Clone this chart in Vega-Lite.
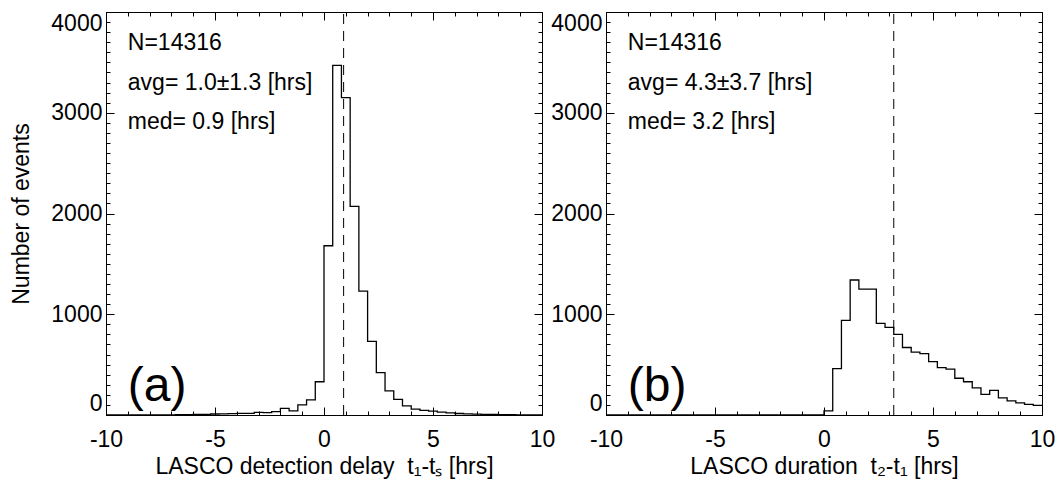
{
  "$schema": "https://vega.github.io/schema/vega-lite/v6.json",
  "padding": {"left": 10, "top": 11, "right": 5, "bottom": 0},
  "bounds": "flush",
  "spacing": 64,
  "config": {
    "font": "Liberation Sans",
    "view": {"stroke": "black", "strokeWidth": 1},
    "axis": {"domainColor": "black", "tickColor": "black", "labelColor": "black", "titleColor": "black", "labelFontSize": 23, "titleFontSize": 23, "titleFontWeight": "normal", "labelFont": "Liberation Sans", "titleFont": "Liberation Sans", "labelOverlap": false, "tickWidth": 1, "domainWidth": 1, "tickSize": -6, "tickOpacity": 0}
  },
  "datasets": {
    "hist": [
      {"panel": "a", "t": -10.0, "count": 0}, {"panel": "a", "t": -9.6, "count": 0}, {"panel": "a", "t": -9.2, "count": 0}, {"panel": "a", "t": -8.8, "count": 0}, {"panel": "a", "t": -8.4, "count": 0},
      {"panel": "a", "t": -8.0, "count": 1}, {"panel": "a", "t": -7.6, "count": 2}, {"panel": "a", "t": -7.2, "count": 2}, {"panel": "a", "t": -6.8, "count": 3}, {"panel": "a", "t": -6.4, "count": 4},
      {"panel": "a", "t": -6.0, "count": 5}, {"panel": "a", "t": -5.6, "count": 6}, {"panel": "a", "t": -5.2, "count": 10}, {"panel": "a", "t": -4.8, "count": 12}, {"panel": "a", "t": -4.4, "count": 13},
      {"panel": "a", "t": -4.0, "count": 16}, {"panel": "a", "t": -3.6, "count": 16}, {"panel": "a", "t": -3.2, "count": 26}, {"panel": "a", "t": -2.8, "count": 23}, {"panel": "a", "t": -2.4, "count": 33},
      {"panel": "a", "t": -2.0, "count": 66}, {"panel": "a", "t": -1.6, "count": 40}, {"panel": "a", "t": -1.2, "count": 100}, {"panel": "a", "t": -0.8, "count": 150}, {"panel": "a", "t": -0.4, "count": 330},
      {"panel": "a", "t": 0.0, "count": 1680}, {"panel": "a", "t": 0.4, "count": 3470}, {"panel": "a", "t": 0.8, "count": 3150}, {"panel": "a", "t": 1.2, "count": 2070}, {"panel": "a", "t": 1.6, "count": 1230},
      {"panel": "a", "t": 2.0, "count": 730}, {"panel": "a", "t": 2.4, "count": 420}, {"panel": "a", "t": 2.8, "count": 240}, {"panel": "a", "t": 3.2, "count": 155}, {"panel": "a", "t": 3.6, "count": 90},
      {"panel": "a", "t": 4.0, "count": 58}, {"panel": "a", "t": 4.4, "count": 45}, {"panel": "a", "t": 4.8, "count": 38}, {"panel": "a", "t": 5.2, "count": 28}, {"panel": "a", "t": 5.6, "count": 22},
      {"panel": "a", "t": 6.0, "count": 15}, {"panel": "a", "t": 6.4, "count": 12}, {"panel": "a", "t": 6.8, "count": 9}, {"panel": "a", "t": 7.2, "count": 7}, {"panel": "a", "t": 7.6, "count": 5},
      {"panel": "a", "t": 8.0, "count": 4}, {"panel": "a", "t": 8.4, "count": 3}, {"panel": "a", "t": 8.8, "count": 2}, {"panel": "a", "t": 9.2, "count": 2}, {"panel": "a", "t": 9.6, "count": 1},
      {"panel": "a", "t": 10.0, "count": 1},
      {"panel": "b", "t": -10.0, "count": 0}, {"panel": "b", "t": -9.6, "count": 0}, {"panel": "b", "t": -9.2, "count": 0}, {"panel": "b", "t": -8.8, "count": 0}, {"panel": "b", "t": -8.4, "count": 0},
      {"panel": "b", "t": -8.0, "count": 0}, {"panel": "b", "t": -7.6, "count": 0}, {"panel": "b", "t": -7.2, "count": 0}, {"panel": "b", "t": -6.8, "count": 0}, {"panel": "b", "t": -6.4, "count": 0},
      {"panel": "b", "t": -6.0, "count": 0}, {"panel": "b", "t": -5.6, "count": 0}, {"panel": "b", "t": -5.2, "count": 0}, {"panel": "b", "t": -4.8, "count": 0}, {"panel": "b", "t": -4.4, "count": 0},
      {"panel": "b", "t": -4.0, "count": 0}, {"panel": "b", "t": -3.6, "count": 0}, {"panel": "b", "t": -3.2, "count": 0}, {"panel": "b", "t": -2.8, "count": 0}, {"panel": "b", "t": -2.4, "count": 0},
      {"panel": "b", "t": -2.0, "count": 0}, {"panel": "b", "t": -1.6, "count": 0}, {"panel": "b", "t": -1.2, "count": 0}, {"panel": "b", "t": -0.8, "count": 0}, {"panel": "b", "t": -0.4, "count": 0},
      {"panel": "b", "t": 0.0, "count": 40}, {"panel": "b", "t": 0.4, "count": 460}, {"panel": "b", "t": 0.8, "count": 940}, {"panel": "b", "t": 1.2, "count": 1340}, {"panel": "b", "t": 1.6, "count": 1250},
      {"panel": "b", "t": 2.0, "count": 1250}, {"panel": "b", "t": 2.4, "count": 910}, {"panel": "b", "t": 2.8, "count": 870}, {"panel": "b", "t": 3.2, "count": 800}, {"panel": "b", "t": 3.6, "count": 670},
      {"panel": "b", "t": 4.0, "count": 625}, {"panel": "b", "t": 4.4, "count": 610}, {"panel": "b", "t": 4.8, "count": 530}, {"panel": "b", "t": 5.2, "count": 470}, {"panel": "b", "t": 5.6, "count": 455},
      {"panel": "b", "t": 6.0, "count": 365}, {"panel": "b", "t": 6.4, "count": 330}, {"panel": "b", "t": 6.8, "count": 270}, {"panel": "b", "t": 7.2, "count": 205}, {"panel": "b", "t": 7.6, "count": 245},
      {"panel": "b", "t": 8.0, "count": 170}, {"panel": "b", "t": 8.4, "count": 140}, {"panel": "b", "t": 8.8, "count": 120}, {"panel": "b", "t": 9.2, "count": 105}, {"panel": "b", "t": 9.6, "count": 95},
      {"panel": "b", "t": 10.0, "count": 95}
    ],
    "stats": [
      {"panel": "a", "med": 0.9, "ntext": "N=14316", "avgtext": "avg= 1.0±1.3 [hrs]", "medtext": "med= 0.9 [hrs]", "tag": "(a)"},
      {"panel": "b", "med": 3.2, "ntext": "N=14316", "avgtext": "avg= 4.3±3.7 [hrs]", "medtext": "med= 3.2 [hrs]", "tag": "(b)"}
    ]
  },
  "hconcat": [
    {
      "width": 436, "height": 403,
      "resolve": {"axis": {"x": "independent", "y": "independent"}},
      "layer": [
        {
          "data": {"name": "hist"},
          "transform": [{"filter": "datum.panel === 'a'"}],
          "mark": {"type": "line", "interpolate": "step-after", "color": "black", "strokeWidth": 1.3},
          "encoding": {
            "x": {"field": "t", "type": "quantitative", "scale": {"domain": [-10, 10], "nice": false, "zero": false},
              "axis": {"orient": "bottom", "grid": false, "values": [-10, -5, 0, 5, 10], "labelExpr": "'' + datum.value", "labelOverlap": false, "labelPadding": 19, "labelFlush": false, "title": "LASCO detection delay\u00a0 t₁-tₛ [hrs]", "titlePadding": 4}},
            "y": {"field": "count", "type": "quantitative", "scale": {"domain": [0, 4000], "nice": false},
              "axis": {"orient": "left", "grid": false, "values": [0, 1000, 2000, 3000, 4000], "labelExpr": "'' + datum.value", "labelOverlap": false, "labelPadding": 10, "labelFlush": true, "labelFlushOffset": 0, "title": "Number of events", "titlePadding": 17}}
          }
        },
        {
          "data": {"name": "stats"},
          "transform": [{"filter": "datum.panel === 'a'"}],
          "mark": {"type": "rule", "color": "black", "strokeWidth": 1, "strokeDash": [10, 7]},
          "encoding": {
            "x": {"field": "med", "type": "quantitative", "scale": {"domain": [-10, 10], "nice": false, "zero": false},
              "axis": {"orient": "top", "values": [-10,-9,-8,-7,-6,-5,-4,-3,-2,-1,0,1,2,3,4,5,6,7,8,9,10], "labels": false, "ticks": false, "domain": false, "title": null, "grid": true, "gridColor": "black", "gridWidth": 1, "gridOpacity": 1, "gridDash": {"condition": {"test": "datum.value % 5 === 0", "value": [8, 387]}, "value": [4, 395]}}},
            "y": {"datum": 0, "type": "quantitative", "scale": {"domain": [0, 4000], "nice": false},
              "axis": {"orient": "right", "values": [0,100,200,300,400,500,600,700,800,900,1000,1100,1200,1300,1400,1500,1600,1700,1800,1900,2000,2100,2200,2300,2400,2500,2600,2700,2800,2900,3000,3100,3200,3300,3400,3500,3600,3700,3800,3900,4000], "labels": false, "ticks": false, "domain": false, "title": null, "grid": true, "gridColor": "black", "gridWidth": 1, "gridOpacity": 1, "gridDash": {"condition": {"test": "datum.value % 1000 === 0", "value": [8, 420]}, "value": [4, 428]}}},
            "y2": {"datum": 4000}
          }
        },
        {
          "data": {"name": "stats"},
          "transform": [{"filter": "datum.panel === 'a'"}],
          "mark": {"type": "text", "align": "left", "baseline": "middle", "fontSize": 23, "font": "Liberation Sans", "color": "black"},
          "encoding": {
            "x": {"datum": -9.0, "type": "quantitative", "axis": null},
            "y": {"datum": 3690, "type": "quantitative", "axis": null},
            "text": {"field": "ntext"}
          }
        },
        {
          "data": {"name": "stats"},
          "transform": [{"filter": "datum.panel === 'a'"}],
          "mark": {"type": "text", "align": "left", "baseline": "middle", "fontSize": 23, "font": "Liberation Sans", "color": "black"},
          "encoding": {
            "x": {"datum": -9.0, "type": "quantitative", "axis": null},
            "y": {"datum": 3300, "type": "quantitative", "axis": null},
            "text": {"field": "avgtext"}
          }
        },
        {
          "data": {"name": "stats"},
          "transform": [{"filter": "datum.panel === 'a'"}],
          "mark": {"type": "text", "align": "left", "baseline": "middle", "fontSize": 23, "font": "Liberation Sans", "color": "black"},
          "encoding": {
            "x": {"datum": -9.0, "type": "quantitative", "axis": null},
            "y": {"datum": 2910, "type": "quantitative", "axis": null},
            "text": {"field": "medtext"}
          }
        },
        {
          "data": {"name": "stats"},
          "transform": [{"filter": "datum.panel === 'a'"}],
          "mark": {"type": "text", "align": "left", "baseline": "alphabetic", "fontSize": 48, "font": "Liberation Sans", "color": "black"},
          "encoding": {
            "x": {"datum": -9.0, "type": "quantitative", "axis": null},
            "y": {"datum": 140, "type": "quantitative", "axis": null},
            "text": {"field": "tag"}
          }
        }
      ]
    },
    {
      "width": 436, "height": 403,
      "resolve": {"axis": {"x": "independent", "y": "independent"}},
      "layer": [
        {
          "data": {"name": "hist"},
          "transform": [{"filter": "datum.panel === 'b'"}],
          "mark": {"type": "line", "interpolate": "step-after", "color": "black", "strokeWidth": 1.3},
          "encoding": {
            "x": {"field": "t", "type": "quantitative", "scale": {"domain": [-10, 10], "nice": false, "zero": false},
              "axis": {"orient": "bottom", "grid": false, "values": [-10, -5, 0, 5, 10], "labelExpr": "'' + datum.value", "labelOverlap": false, "labelPadding": 19, "labelFlush": false, "title": "LASCO duration\u00a0 t₂-t₁ [hrs]", "titlePadding": 4}},
            "y": {"field": "count", "type": "quantitative", "scale": {"domain": [0, 4000], "nice": false},
              "axis": {"orient": "left", "grid": false, "values": [0, 1000, 2000, 3000, 4000], "labelExpr": "'' + datum.value", "labelOverlap": false, "labelPadding": 10, "labelFlush": true, "labelFlushOffset": 0, "title": null}}
          }
        },
        {
          "data": {"name": "stats"},
          "transform": [{"filter": "datum.panel === 'b'"}],
          "mark": {"type": "rule", "color": "black", "strokeWidth": 1, "strokeDash": [10, 7]},
          "encoding": {
            "x": {"field": "med", "type": "quantitative", "scale": {"domain": [-10, 10], "nice": false, "zero": false},
              "axis": {"orient": "top", "values": [-10,-9,-8,-7,-6,-5,-4,-3,-2,-1,0,1,2,3,4,5,6,7,8,9,10], "labels": false, "ticks": false, "domain": false, "title": null, "grid": true, "gridColor": "black", "gridWidth": 1, "gridOpacity": 1, "gridDash": {"condition": {"test": "datum.value % 5 === 0", "value": [8, 387]}, "value": [4, 395]}}},
            "y": {"datum": 0, "type": "quantitative", "scale": {"domain": [0, 4000], "nice": false},
              "axis": {"orient": "right", "values": [0,100,200,300,400,500,600,700,800,900,1000,1100,1200,1300,1400,1500,1600,1700,1800,1900,2000,2100,2200,2300,2400,2500,2600,2700,2800,2900,3000,3100,3200,3300,3400,3500,3600,3700,3800,3900,4000], "labels": false, "ticks": false, "domain": false, "title": null, "grid": true, "gridColor": "black", "gridWidth": 1, "gridOpacity": 1, "gridDash": {"condition": {"test": "datum.value % 1000 === 0", "value": [8, 420]}, "value": [4, 428]}}},
            "y2": {"datum": 4000}
          }
        },
        {
          "data": {"name": "stats"},
          "transform": [{"filter": "datum.panel === 'b'"}],
          "mark": {"type": "text", "align": "left", "baseline": "middle", "fontSize": 23, "font": "Liberation Sans", "color": "black"},
          "encoding": {
            "x": {"datum": -9.0, "type": "quantitative", "axis": null},
            "y": {"datum": 3690, "type": "quantitative", "axis": null},
            "text": {"field": "ntext"}
          }
        },
        {
          "data": {"name": "stats"},
          "transform": [{"filter": "datum.panel === 'b'"}],
          "mark": {"type": "text", "align": "left", "baseline": "middle", "fontSize": 23, "font": "Liberation Sans", "color": "black"},
          "encoding": {
            "x": {"datum": -9.0, "type": "quantitative", "axis": null},
            "y": {"datum": 3300, "type": "quantitative", "axis": null},
            "text": {"field": "avgtext"}
          }
        },
        {
          "data": {"name": "stats"},
          "transform": [{"filter": "datum.panel === 'b'"}],
          "mark": {"type": "text", "align": "left", "baseline": "middle", "fontSize": 23, "font": "Liberation Sans", "color": "black"},
          "encoding": {
            "x": {"datum": -9.0, "type": "quantitative", "axis": null},
            "y": {"datum": 2910, "type": "quantitative", "axis": null},
            "text": {"field": "medtext"}
          }
        },
        {
          "data": {"name": "stats"},
          "transform": [{"filter": "datum.panel === 'b'"}],
          "mark": {"type": "text", "align": "left", "baseline": "alphabetic", "fontSize": 48, "font": "Liberation Sans", "color": "black"},
          "encoding": {
            "x": {"datum": -9.0, "type": "quantitative", "axis": null},
            "y": {"datum": 140, "type": "quantitative", "axis": null},
            "text": {"field": "tag"}
          }
        }
      ]
    }
  ]
}
